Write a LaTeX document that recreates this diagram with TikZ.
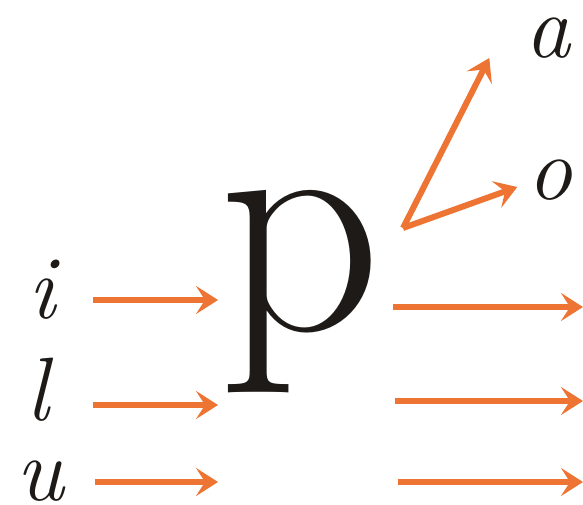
\documentclass[tikz,border=0pt]{standalone}
\usepackage{tikz}
\usetikzlibrary{arrows.meta}
\definecolor{handorange}{HTML}{EE7433}
\definecolor{handink}{HTML}{1E1A18}

\begin{document}
\begin{tikzpicture}[
  x=1pt, y=-1pt,
  letter/.style={inner sep=0pt, anchor=base, text=handink, font=\fontsize{90}{90}\selectfont\itshape},
  bigletter/.style={inner sep=0pt, anchor=base, text=handink, font=\fontsize{320}{320}\selectfont},
  arr/.style={-{Stealth[length=22pt, width=28pt, inset=9pt]}, line width=6pt, color=handorange}
]
\useasboundingbox (0,0) rectangle (583,505);
\node[letter] (i) at (42,318) {i};
\node[letter] (l) at (38,420) {l};
\node[letter] (u) at (40,500) {u};
\node[bigletter] (p) at (300,330) {p};
\node[letter] (a) at (548,58) {a};
\node[letter] (o) at (550,200) {o};

% free ends on the right
\coordinate (fork) at (403,228);
\coordinate (r1) at (583,307);
\coordinate (r2) at (583,401);
\coordinate (r3) at (583,482);

\draw[arr] ([xshift=37pt]i.base east |- 0,300) -- (p.west |- 0,300);
\draw[arr] ([xshift=44pt]l.base east |- 0,405) -- (p.west |- 0,405);
\draw[arr] ([xshift=31pt]u.base east |- 0,482) -- (p.west |- 0,482);
\draw[arr] (fork) -- ([xshift=-36pt]a.base west);
\draw[arr] (fork) -- ([xshift=-10pt, yshift=13pt]o.base west);
\draw[arr] ([xshift=11pt]p.east |- 0,307) -- (r1);
\draw[arr] ([xshift=13pt]p.east |- 0,401) -- (r2);
\draw[arr] ([xshift=16pt]p.east |- 0,482) -- (r3);
\end{tikzpicture}
\end{document}
